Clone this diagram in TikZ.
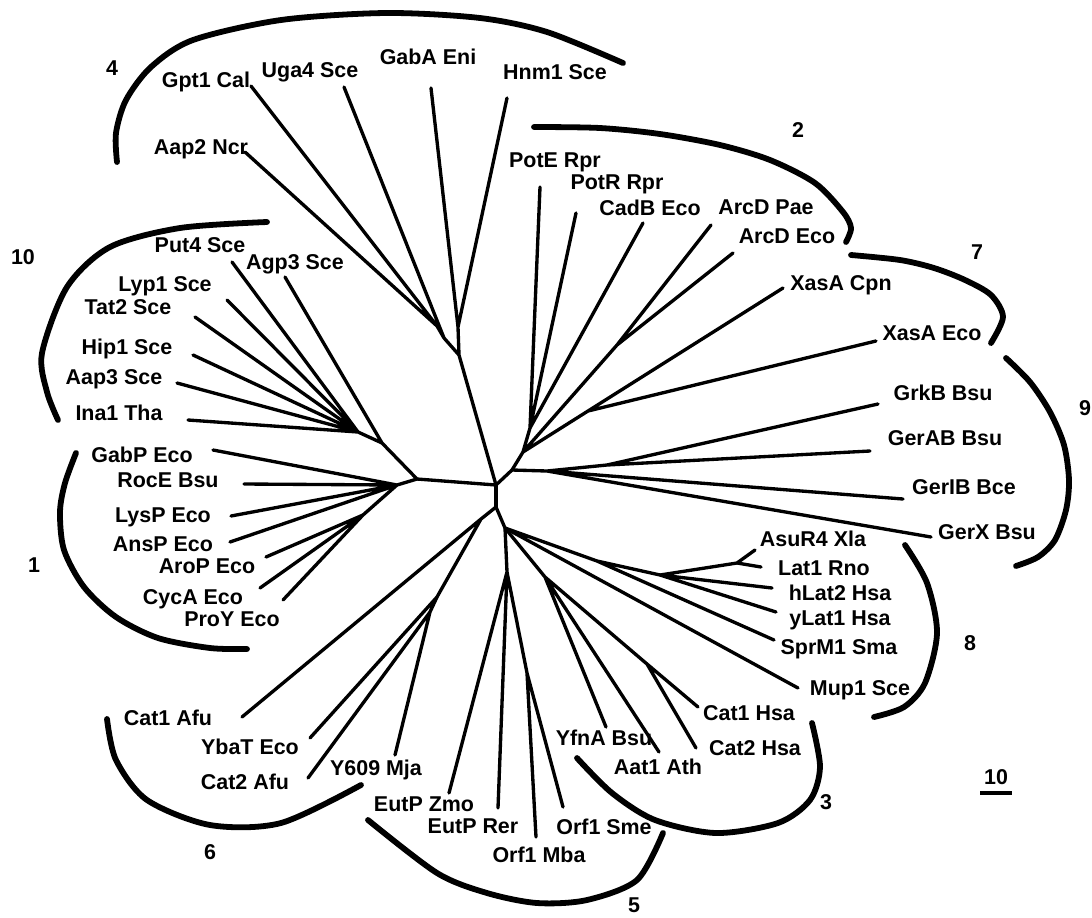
\documentclass[tikz,border=0pt]{standalone}
\usepackage{fontspec}
\setmainfont{Liberation Sans}
\newcommand\lblfont{\fontsize{12.2pt}{14pt}\selectfont\bfseries}
\begin{document}
\begin{tikzpicture}[x=0.02cm,y=-0.02cm,
  br/.style={line width=1.9pt,line cap=round,line join=round},
  grp/.style={line width=3.3pt,line cap=round},
  lab/.style={font=\lblfont,inner sep=0pt,text height=8.7pt,text depth=0pt},
  scalebar/.style={line width=2pt}]
\useasboundingbox (0,0) rectangle (1092,917);
% ---------- centre
\coordinate (c1) at (496,485);
\coordinate (c2) at (496,507);
% ---------- group 4
\coordinate (n4a) at (459,355);
\coordinate (n4b) at (458,327);
\coordinate (n4c) at (437,326);
\coordinate (n4d) at (444,338);
\coordinate (gpt1) at (251,86);
\coordinate (aap2) at (245,152);
\coordinate (uga4) at (344,87);
\coordinate (gaba) at (431,88);
\coordinate (hnm1) at (507,98);
% ---------- groups 10 and 1
\coordinate (nl) at (417,479);
\coordinate (g10b) at (382,443);
\coordinate (g10) at (358,432);
\coordinate (put4) at (232,262);
\coordinate (agp3) at (285,277);
\coordinate (lyp1) at (227,300);
\coordinate (tat2) at (195,317);
\coordinate (hip1) at (193,355);
\coordinate (aap3) at (177,383);
\coordinate (ina1) at (188,420);
\coordinate (g1a) at (397,485);
\coordinate (g1b) at (363,515);
\coordinate (gabp) at (213,450);
\coordinate (roce) at (244,484);
\coordinate (lysp) at (231,516);
\coordinate (ansp) at (230,542);
\coordinate (arop) at (266,557);
\coordinate (cyca) at (260,588);
\coordinate (proy) at (283,600);
% ---------- group 6
\coordinate (n6a) at (481,519);
\coordinate (n6b) at (437,597);
\coordinate (n6c) at (430,612);
\coordinate (cat1afu) at (242,717);
\coordinate (ybat) at (310,738);
\coordinate (cat2afu) at (308,778);
\coordinate (y609) at (395,755);
% ---------- groups 5, 3, 8
\coordinate (nb) at (505,528);
\coordinate (n5a) at (507,572);
\coordinate (n5b) at (527,673);
\coordinate (eutpz) at (449,793);
\coordinate (eutpr) at (498,808);
\coordinate (orfmba) at (536,837);
\coordinate (orfsme) at (563,807);
\coordinate (n3a) at (545,577);
\coordinate (n3c) at (647,664);
\coordinate (yfna) at (606,727);
\coordinate (aat1) at (659,752);
\coordinate (cat1hsa) at (698,707);
\coordinate (cat2hsa) at (696,748);
\coordinate (n8s) at (597,561);
\coordinate (n8b) at (660,575);
\coordinate (n8c) at (737,563);
\coordinate (mup1) at (798,688);
\coordinate (sprm1) at (774,640);
\coordinate (ylat1) at (776,612);
\coordinate (hlat2) at (772,588);
\coordinate (lat1) at (761,567);
\coordinate (asur4) at (755,550);
% ---------- groups 2, 7, 9
\coordinate (nr) at (512,470);
\coordinate (n2a) at (523,452);
\coordinate (n2b) at (530,428);
\coordinate (n2c) at (617,345);
\coordinate (n7) at (588,411);
\coordinate (n9a) at (547,471);
\coordinate (n9b) at (607,465);
\coordinate (pote) at (540,187);
\coordinate (potr) at (576,213);
\coordinate (cadb) at (643,223);
\coordinate (arcdp) at (711,225);
\coordinate (arcde) at (733,253);
\coordinate (xasac) at (783,288);
\coordinate (xasae) at (876,341);
\coordinate (grkb) at (878,404);
\coordinate (gerab) at (870,451);
\coordinate (gerib) at (903,499);
\coordinate (gerx) at (931,537);

% ---------- branches
\draw[br] (c1) -- (c2);
\draw[br] (c1) -- (n4a) (n4a) -- (n4b) (n4b) -- (gaba) (n4b) -- (hnm1)
  (n4a) -- (n4d) (n4d) -- (uga4) (n4d) -- (n4c) (n4c) -- (gpt1) (n4c) -- (aap2);
\draw[br] (c1) -- (nl) (nl) -- (g10b) (g10b) -- (agp3) (g10b) -- (g10)
  (g10) -- (put4) (g10) -- (lyp1) (g10) -- (tat2) (g10) -- (hip1) (g10) -- (aap3) (g10) -- (ina1);
\draw[br] (nl) -- (g1a) (g1a) -- (gabp) (g1a) -- (roce) (g1a) -- (lysp) (g1a) -- (ansp)
  (g1a) -- (g1b) (g1b) -- (arop) (g1b) -- (cyca) (g1b) -- (proy);
\draw[br] (c2) -- (n6a) (n6a) -- (cat1afu) (n6a) -- (n6b) (n6b) -- (ybat) (n6b) -- (n6c)
  (n6c) -- (cat2afu) (n6c) -- (y609);
\draw[br] (c2) -- (nb) (nb) -- (n5a) (n5a) -- (eutpz) (n5a) -- (eutpr) (n5a) -- (n5b)
  (n5b) -- (orfmba) (n5b) -- (orfsme);
\draw[br] (nb) -- (n3a) (n3a) -- (yfna) (n3a) -- (aat1) (n3a) -- (n3c) (n3c) -- (cat1hsa) (n3c) -- (cat2hsa);
\draw[br] (nb) -- (mup1) (nb) -- (n8s) (n8s) -- (sprm1) (n8s) -- (n8b) (n8b) -- (ylat1) (n8b) -- (hlat2)
  (n8b) -- (n8c) (n8c) -- (lat1) (n8c) -- (asur4);
\draw[br] (c1) -- (nr) (nr) -- (n2a) (n2a) -- (n2b) (n2b) -- (pote) (n2b) -- (potr) (n2b) -- (cadb)
  (n2a) -- (n2c) (n2c) -- (arcdp) (n2c) -- (arcde) (n2a) -- (n7) (n7) -- (xasac) (n7) -- (xasae);
\draw[br] (nr) -- (n9a) (n9a) -- (gerib) (n9a) -- (gerx) (n9a) -- (n9b) (n9b) -- (grkb) (n9b) -- (gerab);

% ---------- labels
\node[lab] (t-gpt1) at (206,80) {Gpt1 Cal};
\node[lab] (t-uga4) at (310,70) {Uga4 Sce};
\node[lab] (t-gaba) at (428,57) {GabA Eni};
\node[lab] (t-hnm1) at (555,72) {Hnm1 Sce};
\node[lab] (t-aap2) at (201,147) {Aap2 Ncr};
\node[lab] (t-put4) at (200,245) {Put4 Sce};
\node[lab] (t-agp3) at (295,262) {Agp3 Sce};
\node[lab] (t-lyp1) at (165,284) {Lyp1 Sce};
\node[lab] (t-tat2) at (128,307) {Tat2 Sce};
\node[lab] (t-hip1) at (127,347) {Hip1 Sce};
\node[lab] (t-aap3) at (114,377) {Aap3 Sce};
\node[lab] (t-ina1) at (119,413) {Ina1 Tha};
\node[lab] (t-gabp) at (142,455) {GabP Eco};
\node[lab] (t-roce) at (168,480) {RocE Bsu};
\node[lab] (t-lysp) at (163,515) {LysP Eco};
\node[lab] (t-ansp) at (163,544) {AnsP Eco};
\node[lab] (t-arop) at (207,566) {AroP Eco};
\node[lab] (t-cyca) at (193,597) {CycA Eco};
\node[lab] (t-proy) at (232,619) {ProY Eco};
\node[lab] (t-cat1afu) at (168,718) {Cat1 Afu};
\node[lab] (t-ybat) at (250,747) {YbaT Eco};
\node[lab] (t-cat2afu) at (245,782) {Cat2 Afu};
\node[lab] (t-y609) at (376,768) {Y609 Mja};
\node[lab] (t-eutpz) at (424,804) {EutP Zmo};
\node[lab] (t-eutpr) at (473,826) {EutP Rer};
\node[lab] (t-orfmba) at (539,855) {Orf1 Mba};
\node[lab] (t-orfsme) at (604,827) {Orf1 Sme};
\node[lab] (t-yfna) at (604,738) {YfnA Bsu};
\node[lab] (t-aat1) at (658,767) {Aat1 Ath};
\node[lab] (t-cat1hsa) at (749,713) {Cat1 Hsa};
\node[lab] (t-cat2hsa) at (755,748) {Cat2 Hsa};
\node[lab] (t-asur4) at (813,539) {AsuR4 Xla};
\node[lab] (t-lat1) at (824,568) {Lat1 Rno};
\node[lab] (t-hlat2) at (840,593) {hLat2 Hsa};
\node[lab] (t-ylat1) at (840,618) {yLat1 Hsa};
\node[lab] (t-sprm1) at (839,647) {SprM1 Sma};
\node[lab] (t-mup1) at (860,688) {Mup1 Sce};
\node[lab] (t-grkb) at (943,393) {GrkB Bsu};
\node[lab] (t-gerab) at (945,438) {GerAB Bsu};
\node[lab] (t-gerib) at (964,487) {GerIB Bce};
\node[lab] (t-gerx) at (987,532) {GerX Bsu};
\node[lab] (t-xasac) at (841,283) {XasA Cpn};
\node[lab] (t-xasae) at (932,333) {XasA Eco};
\node[lab] (t-pote) at (555,160) {PotE Rpr};
\node[lab] (t-potr) at (617,182) {PotR Rpr};
\node[lab] (t-cadb) at (650,208) {CadB Eco};
\node[lab] (t-arcdp) at (766,207) {ArcD Pae};
\node[lab] (t-arcde) at (787,236) {ArcD Eco};
% group numbers
\node[lab] (k4) at (112,68) {4};
\node[lab] (k2) at (798,130) {2};
\node[lab] (k7) at (977,252) {7};
\node[lab] (k9) at (1085,408) {9};
\node[lab] (k8) at (970,643) {8};
\node[lab] (k3) at (826,802) {3};
\node[lab] (k5) at (634,905) {5};
\node[lab] (k6) at (210,852) {6};
\node[lab] (k1) at (34,565) {1};
\node[lab] (k10) at (23,257) {10};
% scale bar
\node[lab] (sb) at (996,777) {10};
\coordinate (sbl) at (980,793);
\coordinate (sbr) at (1012,793);
\draw[scalebar] (sbl) -- (sbr);

% ---------- group arcs
\draw[grp] plot[smooth] coordinates {(117,162) (116,133) (126,100) (151,67) (193,40) (281,20) (386,13) (480,18) (547,32) (623,63)};
\draw[grp] plot[smooth] coordinates {(534,127) (600,128) (660,134) (720,145) (770,160) (815,183) (843,212) (851,228) (846,242)};
\draw[grp] plot[smooth] coordinates {(851,255) (900,260) (934,268) (965,280) (991,295) (1003,317) (991,343)};
\draw[grp] plot[smooth] coordinates {(1006,358) (1030,382) (1050,412) (1064,445) (1069,480) (1066,510) (1055,540) (1038,557) (1016,566)};
\draw[grp] plot[smooth] coordinates {(905,545) (927,583) (937,633) (925,683) (904,707) (874,717)};
\draw[grp] plot[smooth] coordinates {(812,723) (820,767) (810,800) (778,823) (716,833) (655,820) (612,793) (577,758)};
\draw[grp] plot[smooth] coordinates {(663,833) (637,880) (587,900) (537,903) (487,893) (437,873) (368,820)};
\draw[grp] plot[smooth] coordinates {(107,719) (116,760) (147,800) (210,825) (281,823) (361,785)};
\draw[grp] plot[smooth] coordinates {(76,453) (65,483) (60,512) (64,550) (84,587) (116,617) (158,638) (210,648) (247,649)};
\draw[grp] plot[smooth] coordinates {(267,222) (180,228) (110,247) (67,287) (42,353) (47,392) (58,420)};
\end{tikzpicture}
\end{document}
